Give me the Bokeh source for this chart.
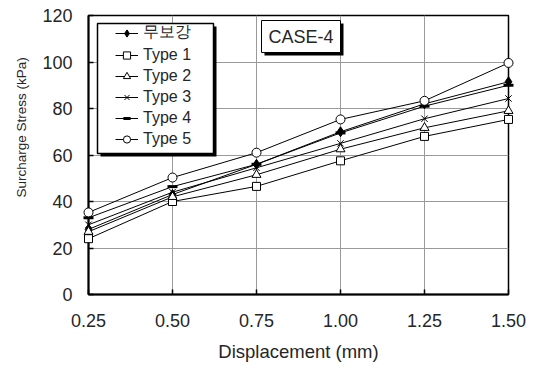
from bokeh.plotting import figure
from bokeh.models import (Range1d, FixedTicker, NumeralTickFormatter, Legend, LegendItem,
                          BoxAnnotation, Label, Title)
from bokeh.embed import file_html
from bokeh.resources import INLINE

# ---- data ----
x_vals = [0.25, 0.50, 0.75, 1.00, 1.25, 1.50]
series_names = ["무보강", "Type 1", "Type 2", "Type 3", "Type 4", "Type 5"]
s_none = [28.0, 43.0, 56.0, 70.0, 82.0, 91.5]
s_type1 = [24.0, 40.0, 46.5, 57.5, 68.0, 75.3]
s_type2 = [27.0, 42.0, 51.5, 62.5, 71.7, 79.0]
s_type3 = [30.0, 44.0, 54.5, 65.0, 75.6, 84.3]
s_type4 = [33.0, 46.4, 56.0, 69.5, 81.0, 90.0]
s_type5 = [35.3, 50.3, 61.0, 75.3, 83.3, 99.6]
x_ticks = [0.25, 0.50, 0.75, 1.00, 1.25, 1.50]
y_ticks = [0, 20, 40, 60, 80, 100, 120]
x_title = "Displacement (mm)"
y_title = "Surcharge Stress (kPa)"
case_text = "CASE-4"

FONT = "Liberation Sans"
TXT = "#262626"

W, H = 539, 369
FL, FR, FT, FB = 88, 508, 15, 294  # frame edges in px

p = figure(width=W, height=H, output_backend="svg", toolbar_location=None,
           x_range=Range1d(0.25, 1.5), y_range=Range1d(0, 120),
           min_border_left=FL, min_border_right=W - FR, min_border_top=FT,
           min_border_bottom=H - FB)
p.background_fill_color = "white"
p.border_fill_color = "white"
p.outline_line_color = "black"
p.outline_line_width = 1.5

def px2x(px):
    return 0.25 + (px - FL) / (FR - FL) * 1.25

def py2y(py):
    return (FB - py) / (FB - FT) * 120.0

# axes
p.xaxis.ticker = FixedTicker(ticks=x_ticks)
p.xaxis.formatter = NumeralTickFormatter(format="0.00")
p.yaxis.ticker = FixedTicker(ticks=y_ticks)
for ax in (p.xaxis[0], p.yaxis[0]):
    ax.axis_line_width = 2
    ax.axis_line_color = "black"
    ax.major_tick_in = 5
    ax.major_tick_out = 0
    ax.major_tick_line_width = 1.5
    ax.minor_tick_line_color = None
    ax.major_label_text_font = FONT
    ax.major_label_text_font_size = "18px"
    ax.major_label_text_color = TXT
    ax.axis_label_text_font = FONT
    ax.axis_label_text_font_style = "normal"
    ax.axis_label_text_color = TXT
p.xaxis.axis_label = x_title
p.xaxis.axis_label_text_font_size = "18.5px"
p.xaxis.major_label_standoff = 19
p.xaxis.axis_label_standoff = 11
p.yaxis.major_label_standoff = 16

p.xgrid.grid_line_color = "#9a9a9a"
p.ygrid.grid_line_color = "#9a9a9a"
p.xgrid.grid_line_width = 1
p.ygrid.grid_line_width = 1

# y title (sits above the frame centre, as in the reference)
p.add_layout(Title(text=y_title, align="left", offset=97, standoff=22,
                   text_font=FONT, text_font_size="13.5px", text_font_style="normal",
                   text_color=TXT), "left")

# series
specs = [
    (s_none, "diamond", 10, "black", 1),
    (s_type1, "square", 8, "white", 1),
    (s_type2, "triangle", 9, "white", 1),
    (s_type3, "x", 9, None, 1),
    (s_type4, "dash", 10, None, 3),
    (s_type5, "circle", 9, "white", 1),
]
items = []
for name, (vals, marker, size, fill, lw) in zip(series_names, specs):
    ln = p.line(x_vals, vals, line_color="black", line_width=1)
    sc = p.scatter(x_vals, vals, marker=marker, size=size, line_color="black",
                   line_width=lw, fill_color=fill, level="overlay")
    items.append(LegendItem(label=name, renderers=[ln, sc]))

# legend frame with shadow
sh = 3
p.add_layout(BoxAnnotation(left=px2x(97 + sh), right=px2x(213 + sh), top=py2y(23 + sh),
                           bottom=py2y(153 + sh), fill_color="black", fill_alpha=1,
                           line_color=None))
p.add_layout(BoxAnnotation(left=px2x(97), right=px2x(213), top=py2y(23), bottom=py2y(153),
                           fill_color="white", fill_alpha=1, line_color="black",
                           line_width=1.5, line_alpha=1))
legend = Legend(items=items, location=(115 - FL, FB - 148), padding=0, spacing=3,
                glyph_width=23, glyph_height=18, label_height=18, label_standoff=5,
                label_text_font=FONT, label_text_font_size="16px", label_text_color=TXT,
                background_fill_alpha=0, border_line_color=None, margin=0)
p.add_layout(legend)

# CASE-4 box
p.add_layout(BoxAnnotation(left=px2x(261 + sh), right=px2x(340 + sh), top=py2y(20 + sh),
                           bottom=py2y(52 + sh), fill_color="black", fill_alpha=1,
                           line_color=None))
p.add_layout(BoxAnnotation(left=px2x(261), right=px2x(340), top=py2y(20), bottom=py2y(52),
                           fill_color="white", fill_alpha=1, line_color="black",
                           line_width=1, line_alpha=1))
p.add_layout(Label(x=px2x(300.5), y=py2y(36), text=case_text, text_align="center",
                   text_baseline="middle", text_font=FONT, text_font_size="18px",
                   text_color=TXT))

open("out.html", "w").write(file_html(p, INLINE))
